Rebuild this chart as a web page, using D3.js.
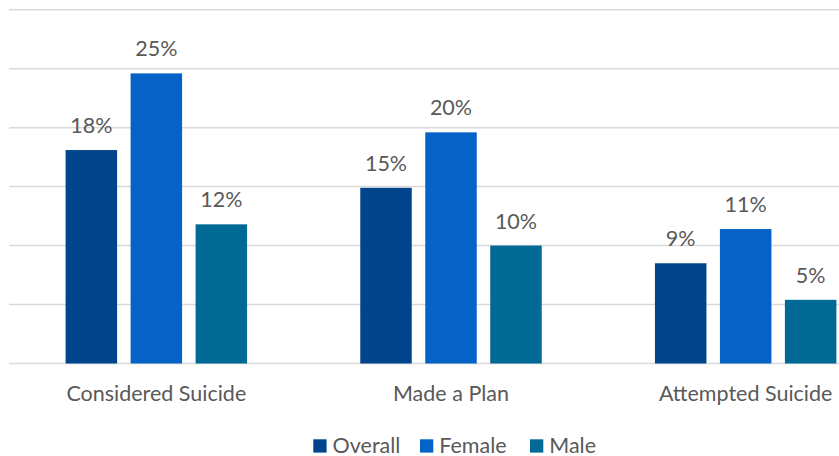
<!DOCTYPE html>
<html>
<head>
<meta charset="utf-8">
<script src="https://cdn.jsdelivr.net/npm/d3@7"></script>
<style>
html, body { margin: 0; padding: 0; background: #fff; overflow: hidden; }
svg { display: block; }
text { font-family: Lato, "Open Sans", sans-serif; fill: #595959; }
</style>
</head>
<body>
<svg id="chart" width="839" height="456"></svg>
<script>
const categories = ["Considered Suicide", "Made a Plan", "Attempted Suicide"];
const seriesNames = ["Overall", "Female", "Male"];
const overall = [0.181, 0.149, 0.085];
const female = [0.246, 0.196, 0.114];
const male = [0.118, 0.100, 0.054];
const yTicks = [0, 0.05, 0.10, 0.15, 0.20, 0.25, 0.30];
const colors = ["#00458C", "#0563C8", "#006996"];

const seriesValues = [overall, female, male];
const svg = d3.select("#chart");

const plot = { left: 9, right: 893, top: 9.7, bottom: 363.5 };

const y = d3.scaleLinear().domain([0, 0.30]).range([plot.bottom, plot.top]);
const x0 = d3.scaleBand().domain(categories).range([plot.left, plot.right]).padding(0);
const x1 = d3.scaleBand().domain(seriesNames).range([0, x0.bandwidth()])
  .paddingInner(0.2077).paddingOuter(0.871);

// gridlines
svg.append("g")
  .selectAll("line")
  .data(yTicks)
  .join("line")
  .attr("x1", plot.left).attr("x2", plot.right)
  .attr("y1", d => y(d)).attr("y2", d => y(d))
  .attr("stroke", "#D9D9D9").attr("stroke-width", 1.5);

const fmt = d3.format(".0%");

const groups = svg.append("g").selectAll("g")
  .data(categories)
  .join("g")
  .attr("transform", d => `translate(${x0(d)},0)`);

groups.selectAll("rect")
  .data((c, i) => seriesNames.map((s, j) => ({ s, v: seriesValues[j][i], j })))
  .join("rect")
  .attr("x", d => x1(d.s))
  .attr("y", d => y(d.v))
  .attr("width", x1.bandwidth())
  .attr("height", d => y(0) - y(d.v))
  .attr("fill", d => colors[d.j]);

groups.selectAll("text.val")
  .data((c, i) => seriesNames.map((s, j) => ({ s, v: seriesValues[j][i], j })))
  .join("text")
  .attr("class", "val")
  .attr("x", d => x1(d.s) + x1.bandwidth() / 2)
  .attr("y", d => y(d.v) - 17)
  .attr("text-anchor", "middle")
  .style("font-size", "21.5px")
  .text(d => fmt(d.v));

// category axis labels
svg.append("g").selectAll("text")
  .data(categories)
  .join("text")
  .attr("x", d => x0(d) + x0.bandwidth() / 2)
  .attr("y", 401)
  .attr("text-anchor", "middle")
  .style("font-size", "21.5px")
  .text(d => d);

// legend
const legendX = [313.3, 420, 530];
const leg = svg.append("g").selectAll("g")
  .data(seriesNames)
  .join("g")
  .attr("transform", (d, i) => `translate(${legendX[i]},0)`);
leg.append("rect")
  .attr("x", 0).attr("y", 439.3)
  .attr("width", 13.3).attr("height", 13.3)
  .attr("fill", (d, i) => colors[i]);
leg.append("text")
  .attr("x", 19.3).attr("y", 452.5)
  .style("font-size", "21.5px")
  .text(d => d);
</script>
</body>
</html>
